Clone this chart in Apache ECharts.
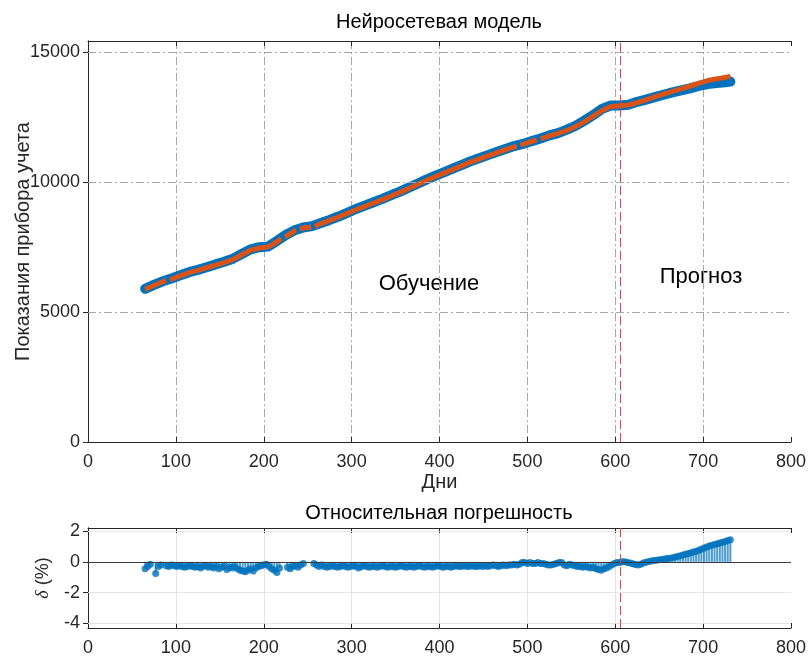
<!DOCTYPE html>
<html>
<head>
<meta charset="utf-8">
<script src="https://cdn.jsdelivr.net/npm/echarts@6/dist/echarts.min.js"></script>
<style>
  html, body { margin: 0; padding: 0; background: #fff; }
  #chart { width: 810px; height: 657px; }
</style>
</head>
<body>
<div id="chart"></div>
<script>
// Meter readings: measured (blue) and network output (orange)
const actualDays = [65,75,85,95,105,115,125,135,145,155,165,175,185,195,205,215,225,235,245,255,
  265,275,285,295,305,315,325,335,345,355,365,375,385,395,405,415,425,435,445,455,
  465,475,485,495,505,515,525,535,545,555,565,575,585,595,605,615,625,635,645,655,
  665,675,685,695,705,715,725,731];
const actualVals = [5890,6040,6180,6290,6410,6530,6620,6720,6830,6930,7050,7230,7410,7490,7520,7730,7960,8140,8250,8300,
  8420,8540,8670,8810,8960,9090,9220,9350,9490,9630,9780,9930,10090,10230,10370,10510,10650,10790,10910,11030,
  11150,11270,11380,11460,11570,11670,11790,11880,12010,12160,12360,12570,12810,12940,12940,12970,13080,13165,13260,13355,
  13445,13525,13600,13690,13765,13800,13835,13860];

// null marks a day without a model output (line break)
const predDays = [65,75,85,89,91,93,105,115,125,135,145,155,165,175,185,195,205,215,220,222,224,
  235,237,239,241,245,254,256,258,265,275,285,295,305,315,325,335,345,355,365,375,385,395,405,415,
  425,435,445,455,465,475,485,488,490,492,505,511,513,515,525,535,545,555,565,575,585,595,605,
  615,625,635,645,655,665,675,685,695,705,715,725,731];
const predVals = [5870,6020,6160,6210,null,6240,6390,6510,6600,6700,6800,6900,7020,7200,7380,7460,7500,7700,7820,null,7880,
  8120,8150,null,8190,8230,8270,null,8290,8400,8520,8650,8790,8930,9060,9190,9320,9460,9600,9750,9900,10060,10200,10340,10480,
  10620,10760,10880,11000,11120,11240,11350,11390,null,11420,11560,11620,null,11660,11770,11870,11980,12130,12320,12530,12750,12900,12930,
  12960,13050,13160,13270,13380,13480,13580,13680,13790,13900,13960,14020,14060];

// Relative error, %, sampled every 3 days; each block starts at the given day
const errStep = 3;
const errTrainAStart = 65;
const errTrainA = [-0.45,-0.3,-0.15,null,-0.75,-0.3,-0.2,null,-0.25,-0.3,-0.2,-0.25,-0.3,-0.25,-0.3,-0.35,-0.3,-0.25,-0.3,-0.35,
  -0.3,-0.4,-0.3,-0.25,-0.35,-0.3,-0.4,-0.3,-0.45,-0.35,-0.3,-0.5,-0.35,-0.4,-0.3,-0.45,-0.55,-0.6,-0.65,-0.55,
  -0.45,-0.6,-0.4,-0.3,-0.25,-0.2,-0.15,-0.3,-0.45,-0.55,-0.7,-0.4,null,null,-0.35,-0.45,-0.3,-0.25,-0.35,-0.2,
  -0.1,null,null,null,-0.1,-0.2,-0.3];
const errTrainBStart = 266;
const errTrainB = [-0.2,-0.3,-0.35,-0.3,-0.25,-0.3,-0.35,-0.3,-0.25,-0.3,-0.35,-0.3,-0.25,-0.3,-0.4,-0.3,-0.25,-0.3,-0.35,-0.3,
  -0.3,-0.35,-0.3,-0.25,-0.3,-0.35,-0.3,-0.3,-0.35,-0.3,-0.25,-0.3,-0.35,-0.3,-0.3,-0.35,-0.3,-0.25,-0.3,-0.35,
  -0.3,-0.3,-0.35,-0.3,-0.25,-0.3,-0.35,-0.3,-0.3,-0.35,-0.3,-0.25,-0.3,-0.3,-0.25,-0.3,-0.3,-0.25,-0.3,-0.3,
  -0.25,-0.3,-0.25,-0.3,-0.25,-0.2,-0.25,-0.3,-0.25,-0.2,-0.25,-0.2,-0.2,-0.15,-0.2,-0.15,-0.05,-0.05,-0.1,-0.05,
  -0.1,-0.1,-0.05,-0.1,-0.1,-0.15,-0.2,-0.2,-0.15,-0.1,-0.05,-0.05,-0.2,-0.25,-0.15,-0.2,-0.25,-0.3,-0.3,-0.35,
  -0.3,-0.35,-0.4,-0.35,-0.45,-0.5,-0.55,-0.45,-0.4,-0.3,-0.2,-0.1,-0.05,-0.05];
const errForecastStart = 608;
const errForecast = [0.0,0.0,-0.05,-0.08,-0.12,-0.18,-0.2,-0.15,-0.08,-0.03,0.02,0.05,0.08,0.11,0.13,0.15,0.18,0.21,0.24,0.27,
  0.31,0.35,0.39,0.44,0.49,0.54,0.59,0.64,0.69,0.75,0.82,0.9,0.97,1.03,1.08,1.13,1.18,1.23,1.28,1.33,1.38,1.43];

const splitDay = 606;           // end of training period
const yTopTicks = [0,5000,10000,15000];
const yErrTicks = [-4,-2,0,2];

const FONT = '"Liberation Sans", Arial, Helvetica, sans-serif';
const BLUE = '#0072BD', ORANGE = '#D95319', RED = '#F03C3C', AX = '#262626';

function pairs(xs, ys) { return xs.map((x, i) => [x, ys[i]]); }
function block(start, vals) {
  const out = [];
  vals.forEach((v, i) => { if (v !== null) out.push([start + i * errStep, v]); });
  return out;
}
const errData = block(errTrainAStart, errTrainA)
  .concat(block(errTrainBStart, errTrainB))
  .concat(block(errForecastStart, errForecast));

const chart = echarts.init(document.getElementById('chart'), null, { renderer: 'canvas' });

const dashDot = [8, 3, 2, 3];
const plain = v => String(v);
const tickLabel = { color: AX, fontFamily: FONT, fontSize: 18, formatter: plain };

function xAxisDef(grid, opts) {
  return Object.assign({
    type: 'value', gridIndex: grid, min: 0, max: 800, interval: 100,
    axisLine: { show: true, onZero: false, lineStyle: { color: AX, width: 1 } },
    axisTick: { show: true, inside: true, length: 5, lineStyle: { color: AX } },
    axisLabel: Object.assign({ margin: 11 }, tickLabel),
  }, opts);
}

const option = {
  animation: false,
  backgroundColor: '#fff',
  grid: [
    { left: 88, right: 19, top: 41, height: 401, show: false, containLabel: false, outerBoundsMode: 'none' },
    { left: 88, right: 19, top: 528, height: 100, show: false, containLabel: false, outerBoundsMode: 'none' }
  ],
  xAxis: [
    xAxisDef(0, {
      position: 'bottom',
      name: 'Дни', nameLocation: 'middle', nameGap: 30, nameMoveOverlap: false,
      nameTextStyle: { color: AX, fontFamily: FONT, fontSize: 20 },
      splitLine: { show: true, showMinLine: false, showMaxLine: false, lineStyle: { color: '#a6a6a6', type: dashDot, width: 1 } }
    }),
    xAxisDef(0, { position: 'top', axisLabel: { show: false }, splitLine: { show: false } }),
    xAxisDef(1, {
      position: 'bottom',
      splitLine: { show: true, showMinLine: false, showMaxLine: false, lineStyle: { color: '#e3e3e3', width: 1 } }
    }),
    xAxisDef(1, { position: 'top', axisLabel: { show: false }, splitLine: { show: false } })
  ],
  yAxis: [
    {
      type: 'value', gridIndex: 0, min: 0, max: 15420, position: 'left',
      name: 'Показания прибора учета', nameLocation: 'middle', nameGap: 55, nameMoveOverlap: false,
      nameTextStyle: { color: AX, fontFamily: FONT, fontSize: 20 },
      axisLine: { show: true, lineStyle: { color: AX } },
      axisTick: { show: true, inside: true, length: 5, customValues: yTopTicks, lineStyle: { color: AX } },
      axisLabel: Object.assign({ margin: 8, customValues: yTopTicks }, tickLabel),
      splitLine: { show: false }
    },
    {
      type: 'value', gridIndex: 0, min: 0, max: 15420, position: 'right',
      axisLine: { show: true, lineStyle: { color: AX } },
      axisTick: { show: true, inside: true, length: 5, customValues: yTopTicks, lineStyle: { color: AX } },
      axisLabel: { show: false }, splitLine: { show: false }
    },
    {
      type: 'value', gridIndex: 1, min: -4.3, max: 2.2, position: 'left',
      name: '{d|δ} (%)', nameLocation: 'middle', nameGap: 36, nameMoveOverlap: false,
      nameTextStyle: { color: AX, fontFamily: FONT, fontSize: 18,
        rich: { d: { fontFamily: '"Liberation Serif", serif', fontStyle: 'italic', fontSize: 18, color: AX } } },
      axisLine: { show: true, lineStyle: { color: AX } },
      axisTick: { show: true, inside: true, length: 5, customValues: yErrTicks, lineStyle: { color: AX } },
      axisLabel: Object.assign({ margin: 8, customValues: yErrTicks }, tickLabel),
      splitLine: { show: false }
    },
    {
      type: 'value', gridIndex: 1, min: -4.3, max: 2.2, position: 'right',
      axisLine: { show: true, lineStyle: { color: AX } },
      axisTick: { show: true, inside: true, length: 5, customValues: yErrTicks, lineStyle: { color: AX } },
      axisLabel: { show: false }, splitLine: { show: false }
    }
  ],
  series: [
    // horizontal dash-dot grid of the upper panel
    {
      type: 'line', xAxisIndex: 0, yAxisIndex: 0, data: [], z: 1, silent: true,
      markLine: {
        silent: true, symbol: 'none', label: { show: false }, animation: false,
        lineStyle: { color: '#a6a6a6', type: dashDot, width: 1 },
        data: yTopTicks.filter(v => v > 0).map(v => ({ yAxis: v }))
      }
    },
    {
      name: 'Факт', type: 'line', xAxisIndex: 0, yAxisIndex: 0, z: 3,
      data: pairs(actualDays, actualVals),
      showSymbol: false, smooth: false,
      lineStyle: { color: BLUE, width: 10, cap: 'round', join: 'round' }
    },
    {
      name: 'Модель', type: 'line', xAxisIndex: 0, yAxisIndex: 0, z: 4,
      data: pairs(predDays, predVals),
      showSymbol: false, connectNulls: false,
      lineStyle: { color: ORANGE, width: 5, cap: 'butt', join: 'round' },
      markLine: {
        silent: true, symbol: 'none', label: { show: false }, animation: false,
        lineStyle: { color: RED, type: [9, 4], width: 1 },
        data: [{ xAxis: splitDay }]
      }
    },
    // lower panel: horizontal grid and zero line
    {
      type: 'line', xAxisIndex: 2, yAxisIndex: 2, data: [], z: 1, silent: true,
      markLine: {
        silent: true, symbol: 'none', label: { show: false }, animation: false,
        data: [
          { yAxis: 2, lineStyle: { color: '#e3e3e3', width: 1, type: 'solid' } },
          { yAxis: -2, lineStyle: { color: '#e3e3e3', width: 1, type: 'solid' } },
          { yAxis: -4, lineStyle: { color: '#e3e3e3', width: 1, type: 'solid' } },
          { yAxis: 0, lineStyle: { color: '#3c3c3c', width: 1, type: 'solid' } }
        ]
      }
    },
    {
      type: 'bar', xAxisIndex: 2, yAxisIndex: 2, z: 2,
      data: errData, barWidth: 2,
      itemStyle: { color: BLUE, opacity: 0.7 }
    },
    {
      type: 'scatter', xAxisIndex: 2, yAxisIndex: 2, z: 3,
      data: errData, symbolSize: 7,
      itemStyle: { color: BLUE },
      markLine: {
        silent: true, symbol: 'none', label: { show: false }, animation: false,
        lineStyle: { color: RED, type: [9, 4], width: 1 },
        data: [{ xAxis: splitDay }]
      }
    }
  ],
  graphic: [
    { type: 'text', x: 439, y: 22, style: { text: 'Нейросетевая модель', fill: '#000', font: '20px ' + FONT, align: 'center', verticalAlign: 'middle' } },
    { type: 'text', x: 439, y: 513, style: { text: 'Относительная погрешность', fill: '#000', font: '20px ' + FONT, align: 'center', verticalAlign: 'middle' } },
    { type: 'text', x: 429, y: 284, style: { text: 'Обучение', fill: '#000', font: '22px ' + FONT, align: 'center', verticalAlign: 'middle' } },
    { type: 'text', x: 701, y: 277, style: { text: 'Прогноз', fill: '#000', font: '22px ' + FONT, align: 'center', verticalAlign: 'middle' } }
  ]
};

chart.setOption(option);
</script>
</body>
</html>
